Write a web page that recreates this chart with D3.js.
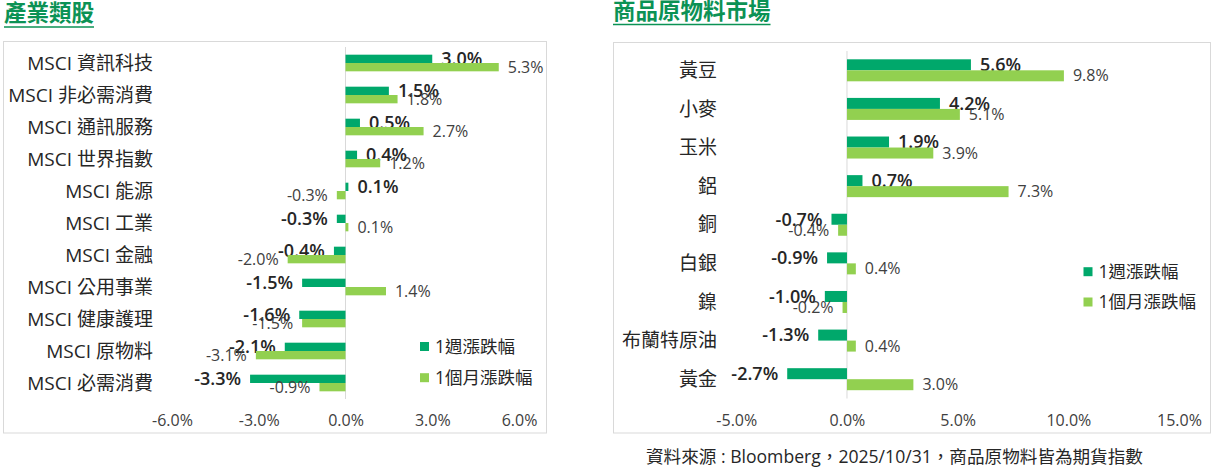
<!DOCTYPE html>
<html>
<head>
<meta charset="utf-8">
<script src="https://cdn.jsdelivr.net/npm/d3@7"></script>
<style>
    body { margin: 0; background: #fff; }
    svg { font-family: "Open Sans", "Noto Sans CJK TC", sans-serif; }
</style>
</head>
<body>
<div id="chart"></div>
<script>
// 產業類股
const sectorCategories = ['MSCI 資訊科技', 'MSCI 非必需消費', 'MSCI 通訊服務', 'MSCI 世界指數', 'MSCI 能源',
    'MSCI 工業', 'MSCI 金融', 'MSCI 公用事業', 'MSCI 健康護理', 'MSCI 原物料', 'MSCI 必需消費'];
const sectorWeek = [3.0, 1.5, 0.5, 0.4, 0.1, -0.3, -0.4, -1.5, -1.6, -2.1, -3.3];
const sectorMonth = [5.3, 1.8, 2.7, 1.2, -0.3, 0.1, -2.0, 1.4, -1.5, -3.1, -0.9];
const sectorTicks = [-6, -3, 0, 3, 6];

// 商品原物料市場
const commodityCategories = ['黃豆', '小麥', '玉米', '鋁', '銅', '白銀', '鎳', '布蘭特原油', '黃金'];
const commodityWeek = [5.6, 4.2, 1.9, 0.7, -0.7, -0.9, -1.0, -1.3, -2.7];
const commodityMonth = [9.8, 5.1, 3.9, 7.3, -0.4, 0.4, -0.2, 0.4, 3.0];
const commodityTicks = [-5, 0, 5, 10, 15];

const seriesNames = ['1週漲跌幅', '1個月漲跌幅'];

const colors = { week: '#00a86b', month: '#92d050', title: '#0b9255', grid: '#d9d9d9' };

const svg = d3.select('#chart').append('svg')
    .attr('width', 1214)
    .attr('height', 469);

function drawPanel(cfg) {
    const g = svg.append('g');

    // title with underline
    const title = g.append('text')
        .attr('x', cfg.titleX)
        .attr('y', cfg.titleY)
        .attr('fill', colors.title)
        .attr('font-size', 22.5)
        .attr('font-weight', 700)
        .text(cfg.title);
    const tw = title.node().getComputedTextLength();
    g.append('line')
        .attr('x1', cfg.titleX).attr('x2', cfg.titleX + tw)
        .attr('y1', cfg.lineY).attr('y2', cfg.lineY)
        .attr('stroke', colors.title).attr('stroke-width', 1.5);

    // frame
    g.append('rect')
        .attr('x', cfg.box[0]).attr('y', cfg.box[1])
        .attr('width', cfg.box[2]).attr('height', cfg.box[3])
        .attr('fill', 'none').attr('stroke', colors.grid);

    const xScale = d3.scaleLinear().domain(cfg.domain).range(cfg.xRange);
    const yScale = d3.scaleBand()
        .domain(cfg.categories)
        .range(cfg.yRange)
        .paddingInner(cfg.padInner)
        .paddingOuter(cfg.padOuter);
    const bh = yScale.bandwidth() / 2;
    const x0 = xScale(0);

    // zero line
    g.append('line')
        .attr('x1', x0).attr('x2', x0)
        .attr('y1', cfg.yRange[0]).attr('y2', cfg.yRange[1])
        .attr('stroke', colors.grid);

    // category labels
    g.selectAll('.cat')
        .data(cfg.categories)
        .join('text')
        .attr('x', cfg.labelX)
        .attr('y', d => yScale(d) + yScale.bandwidth() / 2)
        .attr('dy', '0.35em')
        .attr('text-anchor', 'end')
        .attr('font-size', 19)
        .attr('fill', '#262626')
        .text(d => d);

    const series = [
        { values: cfg.week, color: colors.week, off: 0, size: 18, weight: 600, fill: '#262626' },
        { values: cfg.month, color: colors.month, off: bh, size: 16, weight: 400, fill: '#404040' }
    ];

    series.forEach(s => {
        const rows = cfg.categories.map((c, i) => ({ c, v: s.values[i] }));
        g.selectAll(null)
            .data(rows)
            .join('rect')
            .attr('x', d => Math.min(x0, xScale(d.v)))
            .attr('y', d => yScale(d.c) + s.off)
            .attr('width', d => Math.abs(xScale(d.v) - x0))
            .attr('height', bh)
            .attr('fill', s.color);

        g.selectAll(null)
            .data(rows)
            .join('text')
            .attr('x', d => xScale(d.v) + (d.v >= 0 ? 9 : -9))
            .attr('y', d => yScale(d.c) + s.off + bh / 2)
            .attr('dy', '0.35em')
            .attr('text-anchor', d => d.v >= 0 ? 'start' : 'end')
            .attr('font-size', s.size)
            .attr('font-weight', s.weight)
            .attr('fill', s.fill)
            .text(d => d.v.toFixed(1) + '%');
    });

    // x axis
    const axisG = g.append('g')
        .attr('transform', `translate(0,${cfg.tickY})`)
        .call(d3.axisBottom(xScale).tickValues(cfg.ticks).tickSize(0).tickPadding(0)
            .tickFormat(d => d.toFixed(1) + '%'));
    axisG.select('.domain').remove();
    axisG.selectAll('text')
        .attr('y', 0)
        .attr('dy', '0.35em')
        .attr('font-size', 16)
        .attr('font-family', '"Open Sans", "Noto Sans CJK TC", sans-serif')
        .attr('fill', '#404040');

    // legend
    seriesNames.forEach((name, i) => {
        const ly = cfg.legendY[i];
        g.append('rect')
            .attr('x', cfg.legendX).attr('y', ly - 4.5)
            .attr('width', 9).attr('height', 9)
            .attr('fill', i === 0 ? colors.week : colors.month);
        g.append('text')
            .attr('x', cfg.legendX + 15)
            .attr('y', ly)
            .attr('dy', '0.35em')
            .attr('font-size', 17.5)
            .attr('fill', '#262626')
            .text(name);
    });
}

drawPanel({
    title: '產業類股', titleX: 4, titleY: 21, lineY: 27,
    box: [3.5, 41.5, 543, 391.5],
    categories: sectorCategories, week: sectorWeek, month: sectorMonth,
    domain: [-6, 6], xRange: [172, 519], ticks: sectorTicks,
    yRange: [47, 399], padInner: 0.48, padOuter: 0.24,
    labelX: 153, tickY: 420,
    legendX: 420, legendY: [346.5, 377.7]
});

drawPanel({
    title: '商品原物料市場', titleX: 613, titleY: 19, lineY: 24.5,
    box: [613.5, 42.5, 597, 390.5],
    categories: commodityCategories, week: commodityWeek, month: commodityMonth,
    domain: [-5, 15], xRange: [736.3, 1179], ticks: commodityTicks,
    yRange: [51, 398.5], padInner: 0.43, padOuter: 0.215,
    labelX: 717, tickY: 420,
    legendX: 1083.5, legendY: [271.7, 302]
});

svg.append('text')
    .attr('x', 646)
    .attr('y', 457)
    .attr('dy', '0.35em')
    .attr('font-size', 17.6)
    .attr('fill', '#262626')
    .text('資料來源 : Bloomberg，2025/10/31，商品原物料皆為期貨指數');
</script>
</body>
</html>
